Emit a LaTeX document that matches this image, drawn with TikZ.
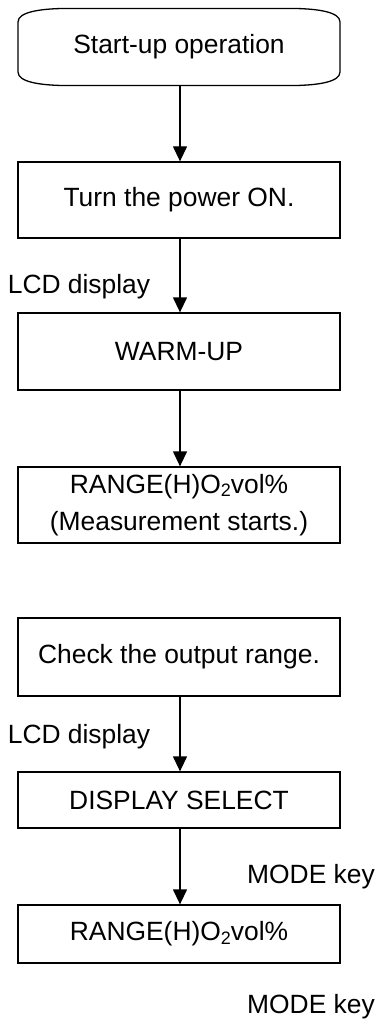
\documentclass[tikz,border=0pt]{standalone}
\usepackage{fontspec}
\setmainfont{Liberation Sans}
\usetikzlibrary{arrows.meta}
\newcommand{\otwo}{O\raisebox{-0.12em}{\fontsize{18}{18}\selectfont 2}}
\begin{document}
\begin{tikzpicture}[x=1pt,y=-1pt,
  every node/.style={font=\fontsize{26.4}{37}\selectfont, inner sep=0pt},
  box/.style={draw, line width=1.3pt, minimum width=322pt, align=center},
  lbl/.style={},
  arr/.style={line width=1.3pt, -{Triangle[width=14pt,length=15pt]}}]
\useasboundingbox (0,0) rectangle (379,1019);
% start terminal
\node[minimum width=322pt, minimum height=77pt] (start) at (179,46.5) {Start-up operation};
\draw[line width=1.3pt] (18,72) -- (18,22) .. controls (18,12) and (40,9) .. (62,8.5) -- (296,8.5) .. controls (318,9) and (340,12) .. (340,22) -- (340,72) .. controls (340,82) and (318,85) .. (296,85.5) -- (62,85.5) .. controls (40,85) and (18,82) .. (18,72) -- cycle;
\node[box, minimum height=76pt] (power) at (179,200) {Turn the power ON.};
\node[box, minimum height=77pt] (warm) at (179,351.5) {WARM-UP};
\node[box, minimum height=76pt] (range1) at (179,505) {RANGE(H)\otwo vol\%\\(Measurement starts.)};
\node[box, minimum height=78pt] (check) at (179,657) {Check the output range.};
\node[box, minimum height=56pt] (disp) at (179,800) {DISPLAY SELECT};
\node[box, minimum height=58pt] (range2) at (179,934) {RANGE(H)\otwo vol\%};
% labels
\node[lbl] (lcd1) at (79,287) {LCD display};
\node[lbl] (lcd2) at (79,737) {LCD display};
\node[lbl] (mode1) at (311,877) {MODE key};
\node[lbl] (mode2) at (311,1007) {MODE key};
% arrows
\draw[arr] (start.south -| 180,0) -- (power.north -| 180,0);
\draw[arr] (power.south -| 180,0) -- (warm.north -| 180,0);
\draw[arr] (warm.south -| 180,0) -- (range1.north -| 180,0);
\draw[arr] (check.south -| 180,0) -- (disp.north -| 180,0);
\draw[arr] (disp.south -| 180,0) -- (range2.north -| 180,0);
\end{tikzpicture}
\end{document}
